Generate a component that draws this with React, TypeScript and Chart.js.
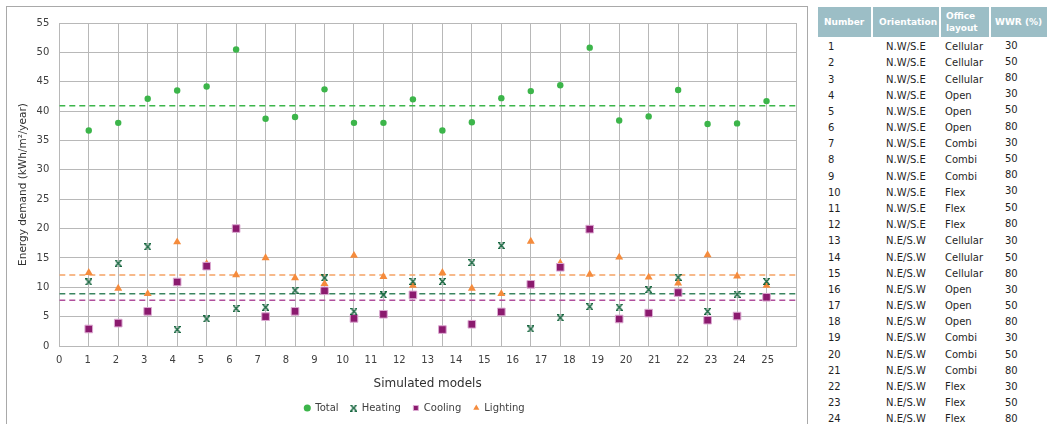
import React, { useEffect, useRef } from "react";
import { Chart, registerables } from "chart.js";

Chart.register(...registerables);

// ---- data ----
const modelNumbers = [1, 2, 3, 4, 5, 6, 7, 8, 9, 10, 11, 12, 13, 14, 15, 16, 17, 18, 19, 20, 21, 22, 23, 24];
const totalDemand = [36.7, 38.0, 42.1, 43.5, 44.2, 50.5, 38.7, 39.0, 43.7, 38.0, 38.0, 42.0, 36.7, 38.1, 42.2, 43.4, 44.4, 50.8, 38.4, 39.1, 43.6, 37.8, 37.9, 41.7];
const heatingDemand = [10.9, 14.1, 16.9, 2.8, 4.6, 6.4, 6.6, 9.5, 11.6, 5.9, 8.7, 11.0, 11.0, 14.2, 17.1, 2.9, 4.8, 6.7, 6.6, 9.6, 11.7, 5.9, 8.8, 11.0];
const coolingDemand = [2.9, 3.9, 5.9, 10.9, 13.6, 20.0, 5.0, 5.9, 9.4, 4.7, 5.4, 8.7, 2.8, 3.7, 5.8, 10.5, 13.4, 19.9, 4.6, 5.6, 9.1, 4.4, 5.1, 8.3];
const lightingDemand = [12.5, 9.8, 8.9, 17.7, 14.0, 12.1, 15.0, 11.6, 10.6, 15.4, 11.8, 10.3, 12.5, 9.8, 8.9, 17.8, 14.1, 12.2, 15.1, 11.7, 10.7, 15.5, 11.9, 10.3];
const averageTotal = 40.9;
const averageHeating = 8.9;
const averageCooling = 7.8;
const averageLighting = 12.1;
const xRange = [0, 25];
const xTickLabels = [0, 1, 2, 3, 4, 5, 6, 7, 8, 9, 10, 11, 12, 13, 14, 15, 16, 17, 18, 19, 20, 21, 22, 23, 24, 25];

// table
const tableNumbers = modelNumbers;
const tableOrientation = ["N.W/S.E", "N.W/S.E", "N.W/S.E", "N.W/S.E", "N.W/S.E", "N.W/S.E", "N.W/S.E", "N.W/S.E", "N.W/S.E", "N.W/S.E", "N.W/S.E", "N.W/S.E", "N.E/S.W", "N.E/S.W", "N.E/S.W", "N.E/S.W", "N.E/S.W", "N.E/S.W", "N.E/S.W", "N.E/S.W", "N.E/S.W", "N.E/S.W", "N.E/S.W", "N.E/S.W"];
const tableLayout = ["Cellular", "Cellular", "Cellular", "Open", "Open", "Open", "Combi", "Combi", "Combi", "Flex", "Flex", "Flex", "Cellular", "Cellular", "Cellular", "Open", "Open", "Open", "Combi", "Combi", "Combi", "Flex", "Flex", "Flex"];
const tableWWR = [30, 50, 80, 30, 50, 80, 30, 50, 80, 30, 50, 80, 30, 50, 80, 30, 50, 80, 30, 50, 80, 30, 50, 80];

const FONT = "'DejaVu Sans', Verdana, sans-serif";
const TEXT = "#404040";
const GRID = "#b8b8b8";

function makeHeatingMarker(): HTMLCanvasElement {
  const c = document.createElement("canvas");
  c.width = 7;
  c.height = 7;
  const g = c.getContext("2d")!;
  g.strokeStyle = "#17663f";
  g.lineWidth = 1.5;
  g.beginPath();
  g.moveTo(1, 1);
  g.lineTo(6, 6);
  g.moveTo(6, 1);
  g.lineTo(1, 6);
  g.stroke();
  g.lineWidth = 1;
  g.beginPath();
  g.moveTo(0, 0.5);
  g.lineTo(2.5, 0.5);
  g.moveTo(4.5, 0.5);
  g.lineTo(7, 0.5);
  g.moveTo(0, 6.5);
  g.lineTo(2.5, 6.5);
  g.moveTo(4.5, 6.5);
  g.lineTo(7, 6.5);
  g.stroke();
  return c;
}

const pts = (vals: number[]) => modelNumbers.map((m, i) => ({ x: m, y: vals[i] }));
const avgLine = (v: number) => xRange.map((x) => ({ x, y: v }));

export default function App() {
  const ref = useRef<HTMLCanvasElement | null>(null);

  useEffect(() => {
    if (!ref.current) return;
    const heatMarker = makeHeatingMarker();
    const chart = new Chart(ref.current, {
      type: "scatter",
      data: {
        datasets: [
          {
            label: "Total",
            data: pts(totalDemand),
            pointStyle: "circle",
            pointRadius: 3.2,
            backgroundColor: "#3cb54a",
            borderColor: "#3cb54a",
            borderWidth: 0,
          },
          {
            label: "Heating",
            data: pts(heatingDemand),
            pointStyle: heatMarker,
            pointRadius: 3.5,
            backgroundColor: "#17663f",
            borderColor: "#17663f",
          },
          {
            label: "Cooling",
            data: pts(coolingDemand),
            pointStyle: "rect",
            pointRadius: 5.4,
            backgroundColor: "#8b1a6e",
            borderColor: "#dcaad2",
            borderWidth: 1,
          },
          {
            label: "Lighting",
            data: pts(lightingDemand),
            pointStyle: "triangle",
            pointRadius: 4.6,
            backgroundColor: "#f58b3c",
            borderColor: "#f58b3c",
            borderWidth: 0,
          },
          {
            label: "Total average",
            data: avgLine(averageTotal),
            showLine: true,
            pointRadius: 0,
            borderColor: "#3cb54a",
            borderWidth: 1.5,
            borderDash: [6, 4],
          },
          {
            label: "Heating average",
            data: avgLine(averageHeating),
            showLine: true,
            pointRadius: 0,
            borderColor: "#3a8560",
            borderWidth: 1.5,
            borderDash: [6, 4],
          },
          {
            label: "Cooling average",
            data: avgLine(averageCooling),
            showLine: true,
            pointRadius: 0,
            borderColor: "#b0509c",
            borderWidth: 1.5,
            borderDash: [6, 4],
          },
          {
            label: "Lighting average",
            data: avgLine(averageLighting),
            showLine: true,
            pointRadius: 0,
            borderColor: "#f5a264",
            borderWidth: 1.5,
            borderDash: [6, 4],
          },
        ],
      } as any,
      options: {
        responsive: false,
        animation: false,
        layout: { padding: { left: 26, right: 10, top: 13.3, bottom: 1 } },
        plugins: {
          tooltip: { enabled: false },
          legend: {
            position: "bottom",
            labels: {
              usePointStyle: true,
              boxWidth: 6,
              boxHeight: 5,
              padding: 12,
              color: TEXT,
              font: { family: FONT, size: 10 },
              filter: (item: any) => item.datasetIndex < 4,
            },
          },
        },
        scales: {
          x: {
            type: "linear",
            position: "bottom",
            weight: 0,
            min: xRange[0],
            max: xRange[1],
            ticks: { display: false, stepSize: 1 },
            grid: { color: GRID, lineWidth: 1, drawTicks: false },
            border: { color: GRID, width: 1 },
          },
          x2: {
            type: "linear",
            position: "bottom",
            weight: 1,
            min: 0,
            max: 26,
            afterBuildTicks: (s: any) => {
              s.ticks = xTickLabels.map((v) => ({ value: v }));
            },
            afterFit: (s: any) => {
              s.height = 45;
            },
            grid: { display: false, drawTicks: false },
            border: { display: false },
            ticks: { padding: 8, color: TEXT, font: { family: FONT, size: 10 }, maxRotation: 0, autoSkip: false },
            title: {
              display: true,
              text: "Simulated models",
              color: "#303030",
              font: { family: FONT, size: 12 },
              padding: { top: 4, bottom: 0 },
            },
          },
          y: {
            min: 0,
            max: 55,
            afterFit: (s: any) => {
              s.width = 26.3;
            },
            ticks: { stepSize: 5, padding: 10, color: TEXT, font: { family: FONT, size: 10 } },
            grid: { color: GRID, lineWidth: 1, drawTicks: false },
            border: { color: GRID, width: 1 },
            title: {
              display: true,
              text: "Energy demand (kWh/m²/year)",
              color: "#303030",
              font: { family: FONT, size: 10.5 },
              padding: { top: -16.3, bottom: 0 },
            },
          },
        },
      } as any,
    });
    return () => chart.destroy();
  }, []);

  const rowCenter = (i: number) => 46.7 + i * 16.18;
  const bodyText: React.CSSProperties = {
    position: "absolute",
    fontFamily: FONT,
    fontSize: 10,
    lineHeight: "12px",
    color: "#1f1f1f",
    whiteSpace: "nowrap",
  };
  const headText: React.CSSProperties = {
    position: "absolute",
    fontFamily: FONT,
    fontSize: 9,
    fontWeight: "bold",
    lineHeight: "12px",
    color: "#ffffff",
    whiteSpace: "nowrap",
  };

  return (
    <div style={{ position: "fixed", left: 0, top: 0, width: 1047, height: 424, overflow: "hidden", background: "#ffffff" }}>
      <div
        style={{
          position: "absolute",
          left: 6,
          top: 6,
          width: 802,
          height: 440,
          boxSizing: "border-box",
          border: "1px solid #a9a9a9",
        }}
      />
      <canvas ref={ref} width={799} height={417} style={{ position: "absolute", left: 7, top: 7 }} />

      {/* table header */}
      <div style={{ position: "absolute", left: 818, top: 7, width: 229, height: 30, background: "#9cbec6" }} />
      {[872, 940, 990].map((x) => (
        <div key={x} style={{ position: "absolute", left: x - 1, top: 7, width: 2, height: 30, background: "#ffffff" }} />
      ))}
      <div style={{ ...headText, left: 824, top: 16 }}>Number</div>
      <div style={{ ...headText, left: 879, top: 16 }}>Orientation</div>
      <div style={{ ...headText, left: 946, top: 10 }}>Office</div>
      <div style={{ ...headText, left: 946, top: 22 }}>layout</div>
      <div style={{ ...headText, left: 995, top: 16 }}>WWR (%)</div>

      {tableNumbers.map((n, i) => (
        <React.Fragment key={n}>
          <div style={{ ...bodyText, left: 828, top: rowCenter(i) - 5.5 }}>{n}</div>
          <div style={{ ...bodyText, left: 872, width: 68, textAlign: "center", top: rowCenter(i) - 5.5 }}>{tableOrientation[i]}</div>
          <div style={{ ...bodyText, left: 945, top: rowCenter(i) - 5.5 }}>{tableLayout[i]}</div>
          <div style={{ ...bodyText, left: 1005, top: rowCenter(i) - 5.5 - (i < 12 ? 1.5 : 0) }}>{tableWWR[i]}</div>
        </React.Fragment>
      ))}
    </div>
  );
}
